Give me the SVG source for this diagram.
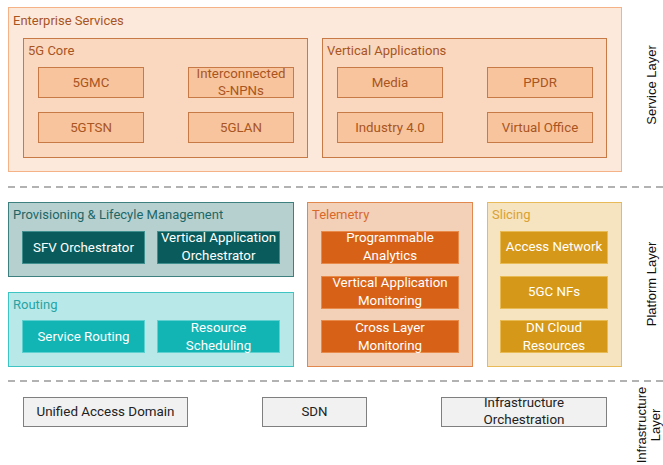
<svg xmlns="http://www.w3.org/2000/svg" width="663" height="465" viewBox="0 0 663 465">
<style>
text{font-family:Roboto,"Liberation Sans",sans-serif;font-size:13.3px}
.h{font-size:13px}
.c{text-anchor:middle}
.lay{font-family:"Liberation Sans",Arial,sans-serif;font-size:13px;fill:#111;text-anchor:middle}
.ob{fill:#f8c49d;stroke:#c77a46;stroke-width:1}
.ot{fill:#a8551f}
.pv{fill:#0a5c5c;stroke:#3f8f8f;stroke-width:1}
.rt{fill:#13b4b4;stroke:#5fd0d0;stroke-width:1}
.tm{fill:#d76116;stroke:#e88a4a;stroke-width:1}
.sl{fill:#d69818;stroke:#e8bb55;stroke-width:1}
.wt{fill:#fff}
.ib{fill:#f1f1f1;stroke:#7f7f7f;stroke-width:1}
.dash{stroke:#666;stroke-width:1.2;stroke-dasharray:7 5;fill:none}
</style>
<g id="enterprise-services">
<rect x="8.5" y="7.5" width="613" height="164" fill="#fce9dc" stroke="#f4b286"/>
<text x="13" y="25" class="h ot">Enterprise Services</text>
</g>
<g id="5g-core">
<rect x="23.5" y="38.5" width="284" height="119" fill="#f9d8bf" stroke="#c77a46"/>
<text x="28" y="55" class="h ot">5G Core</text>
</g>
<g id="5gmc"><rect class="ob" x="38.5" y="67.5" width="105" height="30"/><text class="c ot" x="91" y="87">5GMC</text></g>
<g id="interconnected-snpns"><rect class="ob" x="188.5" y="67.5" width="105" height="30"/><text class="c ot" x="241" y="78">Interconnected</text><text class="c ot" x="241" y="95">S-NPNs</text></g>
<g id="5gtsn"><rect class="ob" x="38.5" y="112.5" width="105" height="30"/><text class="c ot" x="91" y="132">5GTSN</text></g>
<g id="5glan"><rect class="ob" x="188.5" y="112.5" width="105" height="30"/><text class="c ot" x="241" y="132">5GLAN</text></g>
<g id="vertical-applications">
<rect x="322.5" y="38.5" width="284" height="119" fill="#f9d8bf" stroke="#c77a46"/>
<text x="327" y="55" class="h ot">Vertical Applications</text>
</g>
<g id="media"><rect class="ob" x="337.5" y="67.5" width="105" height="30"/><text class="c ot" x="390" y="87">Media</text></g>
<g id="ppdr"><rect class="ob" x="487.5" y="67.5" width="105" height="30"/><text class="c ot" x="540" y="87">PPDR</text></g>
<g id="industry40"><rect class="ob" x="337.5" y="112.5" width="105" height="30"/><text class="c ot" x="390" y="132">Industry 4.0</text></g>
<g id="virtual-office"><rect class="ob" x="487.5" y="112.5" width="105" height="30"/><text class="c ot" x="540" y="132">Virtual Office</text></g>

<g id="layer-lines">
<line class="dash" x1="8" y1="187" x2="663" y2="187"/>
<line class="dash" x1="8" y1="381" x2="663" y2="381"/>
</g>

<g id="provisioning">
<rect x="8.5" y="202.5" width="285" height="74" fill="#b6d0d0" stroke="#3e8080"/>
<text x="13" y="219" class="h" fill="#1e6767">Provisioning &amp; Lifecyle Management</text>
</g>
<g id="sfv-orchestrator"><rect class="pv" x="22.5" y="231.5" width="122" height="32"/><text class="c wt" x="83.5" y="252">SFV Orchestrator</text></g>
<g id="vertical-application-orchestrator"><rect class="pv" x="157.5" y="231.5" width="122" height="32"/><text class="c wt" x="218.5" y="242">Vertical Application</text><text class="c wt" x="218.5" y="260">Orchestrator</text></g>
<g id="routing">
<rect x="8.5" y="292.5" width="285" height="74" fill="#b8e8e8" stroke="#3fc4c4"/>
<text x="13" y="309" class="h" fill="#27a4a4">Routing</text>
</g>
<g id="service-routing"><rect class="rt" x="22.5" y="320.5" width="122" height="32"/><text class="c wt" x="83.5" y="341">Service Routing</text></g>
<g id="resource-scheduling"><rect class="rt" x="157.5" y="320.5" width="122" height="32"/><text class="c wt" x="218.5" y="332">Resource</text><text class="c wt" x="218.5" y="350">Scheduling</text></g>

<g id="telemetry">
<rect x="307.5" y="202.5" width="165" height="164" fill="#f3d0b8" stroke="#e0884e"/>
<text x="312" y="219" class="h" fill="#d8692a">Telemetry</text>
</g>
<g id="programmable-analytics"><rect class="tm" x="321.5" y="231.5" width="137" height="32"/><text class="c wt" x="390" y="242">Programmable</text><text class="c wt" x="390" y="260">Analytics</text></g>
<g id="vertical-application-monitoring"><rect class="tm" x="321.5" y="276.5" width="137" height="32"/><text class="c wt" x="390" y="287">Vertical Application</text><text class="c wt" x="390" y="305">Monitoring</text></g>
<g id="cross-layer-monitoring"><rect class="tm" x="321.5" y="320.5" width="137" height="32"/><text class="c wt" x="390" y="332">Cross Layer</text><text class="c wt" x="390" y="350">Monitoring</text></g>

<g id="slicing">
<rect x="487.5" y="202.5" width="134" height="164" fill="#f6e3bf" stroke="#e9bb58"/>
<text x="492" y="219" class="h" fill="#d9a132">Slicing</text>
</g>
<g id="access-network"><rect class="sl" x="500.5" y="231.5" width="107" height="32"/><text class="c wt" x="554" y="251">Access Network</text></g>
<g id="5gc-nfs"><rect class="sl" x="500.5" y="276.5" width="107" height="32"/><text class="c wt" x="554" y="296">5GC NFs</text></g>
<g id="dn-cloud-resources"><rect class="sl" x="500.5" y="320.5" width="107" height="32"/><text class="c wt" x="554" y="332">DN Cloud</text><text class="c wt" x="554" y="350">Resources</text></g>

<g id="unified-access-domain"><rect class="ib" x="23.5" y="397.5" width="164" height="29"/><text class="c" x="105.5" y="416" fill="#222" textLength="138" lengthAdjust="spacingAndGlyphs">Unified Access  Domain</text></g>
<g id="sdn"><rect class="ib" x="262.5" y="397.5" width="104" height="29"/><text class="c" x="314.5" y="416" fill="#222">SDN</text></g>
<g id="infrastructure-orchestration"><rect class="ib" x="441.5" y="397.5" width="165" height="29"/><text class="c" x="524" y="407" fill="#222" textLength="80" lengthAdjust="spacingAndGlyphs">Infrastructure</text><text class="c" x="524" y="424" fill="#222" textLength="81" lengthAdjust="spacingAndGlyphs">Orchestration</text></g>

<g id="layer-labels">
<text class="lay" transform="translate(656,85) rotate(-90)">Service Layer</text>
<text class="lay" transform="translate(656,284) rotate(-90)">Platform Layer</text>
<text class="lay" transform="translate(646,425) rotate(-90)">Infrastructure</text>
<text class="lay" transform="translate(660,425) rotate(-90)">Layer</text>
</g>
</svg>
